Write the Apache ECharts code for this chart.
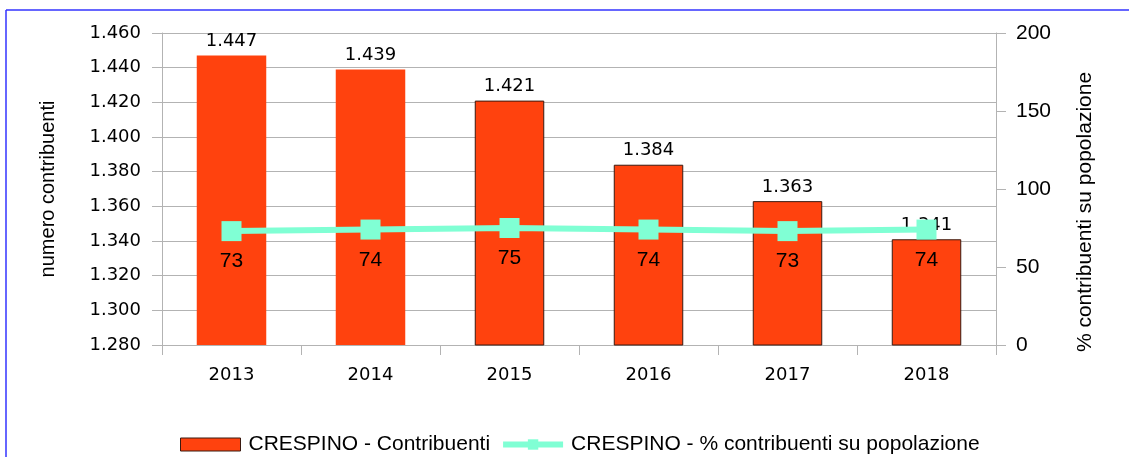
<!DOCTYPE html>
<html>
<head>
<meta charset="utf-8">
<script src="https://cdn.jsdelivr.net/npm/echarts@6/dist/echarts.min.js"></script>
<style>
  html, body { margin: 0; padding: 0; background: #fff; }
  #chart { width: 1129px; height: 457px; }
</style>
</head>
<body>
<div id="chart"></div>
<script>
var anni = ['2013', '2014', '2015', '2016', '2017', '2018'];
var contribuenti = [1447, 1439, 1421, 1384, 1363, 1341];
var percentuale = [73, 74, 75, 74, 73, 74];
var tickSinistra = [1280, 1460, 20];
var tickDestra = [0, 200, 50];

// formato italiano: 1.447
function fmt(v) {
    var s = String(Math.round(v));
    return s.replace(/\B(?=(\d{3})+(?!\d))/g, '.');
}

var myChart = echarts.init(document.getElementById('chart'));

var barre = contribuenti.map(function (v, i) {
    // le prime due barre non hanno il bordo scuro
    return {
        value: v,
        itemStyle: i < 2 ? { borderWidth: 0 } : { borderColor: '#3a1a10', borderWidth: 1 }
    };
});

var option = {
    animation: false,
    textStyle: { fontFamily: 'Liberation Sans' },
    graphic: [
        { type: 'line', shape: { x1: 6, y1: 10, x2: 1129, y2: 10 }, style: { stroke: '#3333ff', lineWidth: 1.5 } },
        { type: 'line', shape: { x1: 6, y1: 10, x2: 6, y2: 457 }, style: { stroke: '#3333ff', lineWidth: 1.5 } }
    ],
    grid: { left: 162, right: 133, top: 33, bottom: 112 },
    legend: {
        bottom: -3,
        left: 175,
        itemWidth: 60,
        itemHeight: 13,
        itemGap: 10,
        textStyle: { fontSize: 21, color: '#000', fontFamily: 'Liberation Sans', padding: [0, 0, 0, 3] },
        data: [
            { name: 'CRESPINO - Contribuenti', icon: 'rect', itemStyle: { borderColor: '#3a1a10', borderWidth: 1 } },
            { name: 'CRESPINO - % contribuenti su popolazione', lineStyle: { width: 6 } }
        ]
    },
    xAxis: {
        type: 'category',
        data: anni,
        axisLine: { lineStyle: { color: '#b3b3b3' } },
        axisTick: { show: true, length: 10, lineStyle: { color: '#b3b3b3' } },
        axisLabel: { fontSize: 18, color: '#000', margin: 21, fontFamily: 'DejaVu Sans' }
    },
    yAxis: [
        {
            type: 'value',
            min: tickSinistra[0],
            max: tickSinistra[1],
            interval: tickSinistra[2],
            name: 'numero contribuenti',
            nameLocation: 'middle',
            nameRotate: 90,
            nameGap: 104,
            nameTextStyle: { fontSize: 20, color: '#000' },
            axisLine: { show: true, lineStyle: { color: '#b3b3b3' } },
            axisTick: { show: true, length: 10, lineStyle: { color: '#b3b3b3' } },
            splitLine: { lineStyle: { color: '#b3b3b3' } },
            axisLabel: { fontSize: 18, color: '#000', margin: 21, fontFamily: 'DejaVu Sans', formatter: fmt }
        },
        {
            type: 'value',
            min: tickDestra[0],
            max: tickDestra[1],
            interval: tickDestra[2],
            name: '% contribuenti su popolazione',
            nameLocation: 'middle',
            nameRotate: 90,
            nameGap: 79,
            nameTextStyle: { fontSize: 21, color: '#000', padding: [0, 46, 0, 0] },
            axisLine: { show: true, lineStyle: { color: '#b3b3b3' } },
            axisTick: { show: true, length: 10, lineStyle: { color: '#b3b3b3' } },
            splitLine: { show: false },
            axisLabel: { fontSize: 21, color: '#000', margin: 20, fontFamily: 'Liberation Sans' }
        }
    ],
    series: [
        {
            name: 'CRESPINO - Contribuenti',
            type: 'bar',
            yAxisIndex: 0,
            barWidth: '50%',
            data: barre,
            itemStyle: { color: '#ff420e' },
            label: {
                show: true,
                position: 'top',
                distance: 5,
                fontSize: 18,
                color: '#000',
                fontFamily: 'DejaVu Sans',
                formatter: function (p) { return fmt(p.value); }
            },
            z: 2
        },
        {
            name: 'CRESPINO - % contribuenti su popolazione',
            type: 'line',
            yAxisIndex: 1,
            data: percentuale,
            symbol: 'rect',
            symbolSize: 20,
            color: '#80ffd4',
            lineStyle: { width: 6, color: '#80ffd4' },
            itemStyle: { color: '#80ffd4' },
            label: {
                show: true,
                position: 'bottom',
                distance: 10,
                fontSize: 21,
                color: '#000'
            },
            z: 3
        }
    ]
};

myChart.setOption(option);
</script>
</body>
</html>
